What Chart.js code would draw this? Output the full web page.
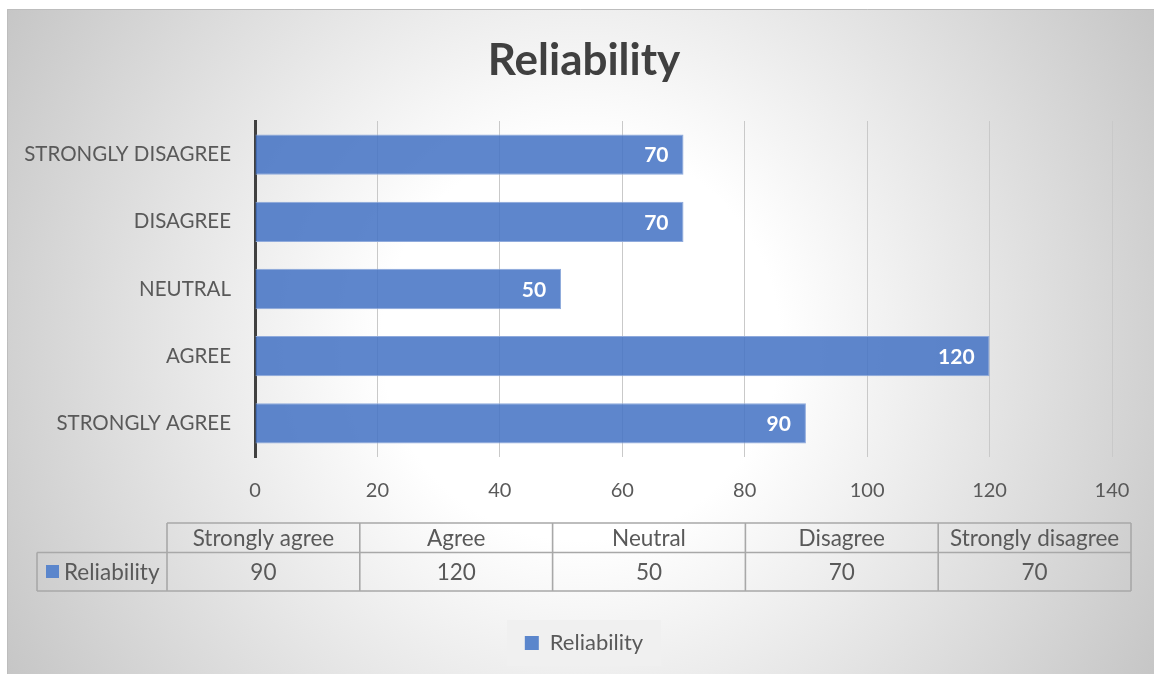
<!DOCTYPE html>
<html>
<head>
<meta charset="utf-8">
<title>Reliability</title>
<script src="https://cdn.jsdelivr.net/npm/chart.js@4.4.1/dist/chart.umd.min.js"></script>
<style>
  html, body { margin: 0; padding: 0; background: #ffffff; }
  #wrap { width: 1154px; height: 674px; }
</style>
</head>
<body>
<div id="wrap"><canvas id="chart" width="1154" height="674"></canvas></div>
<script>
// Survey responses for the "Reliability" item
const categories = ['Strongly agree', 'Agree', 'Neutral', 'Disagree', 'Strongly disagree'];
const seriesName = 'Reliability';
const values = [90, 120, 50, 70, 70];
const axisMin = 0;
const axisMax = 140;
const axisStep = 20;

const FONT = 'Lato, "Open Sans", sans-serif';
const TEXT = '#595959';
const BAR_FILL = 'rgba(68, 114, 196, 0.86)';
const BAR_EDGE = 'rgba(143, 170, 220, 1)';

// Frame with a soft radial gradient, white in the middle fading to grey
const frameBackground = {
  id: 'frameBackground',
  beforeDraw(chart) {
    const ctx = chart.ctx;
    const W = chart.width, H = chart.height;
    ctx.save();
    ctx.fillStyle = '#ffffff';
    ctx.fillRect(0, 0, W, H);
    const fx = 7, fy = 9;
    const cx = (fx + W) / 2, cy = (fy + H) / 2;
    const r = Math.hypot(W - cx, H - cy);
    const g = ctx.createRadialGradient(cx, cy, 0, cx, cy, r);
    g.addColorStop(0, '#ffffff');
    g.addColorStop(0.3, '#ffffff');
    g.addColorStop(1, '#c6c6c6');
    ctx.fillStyle = g;
    ctx.fillRect(fx, fy, W - fx, H - fy);
    ctx.strokeStyle = '#bdbdbd';
    ctx.lineWidth = 1;
    ctx.beginPath();
    ctx.moveTo(fx + 0.5, H);
    ctx.lineTo(fx + 0.5, fy + 0.5);
    ctx.lineTo(W, fy + 0.5);
    ctx.stroke();

    // light panel behind the legend entry
    const lg = chart.legend;
    if (lg && lg.legendHitBoxes && lg.legendHitBoxes.length) {
      const hb = lg.legendHitBoxes[0];
      ctx.fillStyle = 'rgba(240, 240, 240, 0.9)';
      ctx.fillRect(hb.left - 18, hb.top - 12, hb.width + 36, hb.height + 24);
    }
    ctx.restore();
  }
};

// Value labels inside the end of each bar
const barValueLabels = {
  id: 'barValueLabels',
  afterDatasetsDraw(chart) {
    const ctx = chart.ctx;
    const meta = chart.getDatasetMeta(0);
    const data = chart.data.datasets[0].data;
    ctx.save();
    ctx.font = 'bold 21px ' + FONT;
    ctx.fillStyle = '#ffffff';
    ctx.textAlign = 'right';
    ctx.textBaseline = 'middle';
    meta.data.forEach((bar, i) => {
      ctx.fillText(String(data[i]), bar.x - 15, bar.y + 1);
    });
    ctx.restore();
  }
};

// Data table under the axis
const dataTable = {
  id: 'dataTable',
  afterDraw(chart) {
    const ctx = chart.ctx;
    const keyLeft = 37, colLeft = 167, colW = 192.8;
    const top = 523, mid = 552.5, bottom = 591;
    const n = categories.length;
    const right = colLeft + n * colW;
    ctx.save();
    ctx.strokeStyle = '#a8a8a8';
    ctx.lineWidth = 1.6;
    ctx.beginPath();
    ctx.moveTo(colLeft, top); ctx.lineTo(right, top);
    ctx.moveTo(keyLeft, mid); ctx.lineTo(right, mid);
    ctx.moveTo(keyLeft, bottom); ctx.lineTo(right, bottom);
    ctx.moveTo(keyLeft, mid); ctx.lineTo(keyLeft, bottom);
    for (let i = 0; i <= n; i++) {
      const x = colLeft + i * colW;
      ctx.moveTo(x, top); ctx.lineTo(x, bottom);
    }
    ctx.stroke();

    ctx.font = '22.5px ' + FONT;
    ctx.fillStyle = TEXT;
    ctx.textAlign = 'center';
    ctx.textBaseline = 'middle';
    categories.forEach((c, i) => {
      const cx = colLeft + (i + 0.5) * colW;
      ctx.fillText(c, cx, (top + mid) / 2 + 1);
      ctx.fillText(String(values[i]), cx, (mid + bottom) / 2 + 1);
    });
    // series key
    ctx.fillStyle = '#5b86cc';
    ctx.fillRect(46, 565, 13, 13);
    ctx.fillStyle = TEXT;
    ctx.textAlign = 'left';
    ctx.fillText(seriesName, 64, (mid + bottom) / 2 + 1);
    ctx.restore();
  }
};

new Chart(document.getElementById('chart'), {
  type: 'bar',
  data: {
    labels: categories,
    datasets: [{
      label: seriesName,
      data: values,
      backgroundColor: BAR_FILL,
      borderColor: BAR_EDGE,
      borderWidth: 1,
      barPercentage: 0.6,
      categoryPercentage: 1.0
    }]
  },
  options: {
    indexAxis: 'y',
    responsive: false,
    devicePixelRatio: 1,
    animation: false,
    layout: { padding: { left: 14, right: 0, top: 0, bottom: 10 } },
    plugins: {
      title: {
        display: true,
        text: 'Reliability',
        color: '#404040',
        font: { family: FONT, size: 44, weight: 'bold' },
        padding: { top: 34, bottom: 34.2 }
      },
      legend: {
        display: true,
        position: 'bottom',
        labels: {
          color: TEXT,
          font: { family: FONT, size: 22 },
          boxWidth: 14,
          boxHeight: 14,
          padding: 10,
          generateLabels(chart) {
            return [{
              text: seriesName,
              fillStyle: '#5b86cc',
              strokeStyle: '#5b86cc',
              lineWidth: 0,
              fontColor: TEXT,
              datasetIndex: 0,
              hidden: false
            }];
          }
        }
      },
      tooltip: { enabled: false }
    },
    scales: {
      x: {
        min: axisMin,
        max: axisMax,
        ticks: {
          stepSize: axisStep,
          color: TEXT,
          font: { family: FONT, size: 20 },
          padding: 22
        },
        grid: { color: '#c9c9c9', lineWidth: 1, drawTicks: false },
        border: { display: false },
        afterFit(scale) { scale.height = 165; }
      },
      y: {
        reverse: true,
        ticks: {
          color: TEXT,
          font: { family: FONT, size: 20.5 },
          padding: 24,
          callback(value) { return String(this.getLabelForValue(value)).toUpperCase(); }
        },
        grid: { display: false, drawTicks: false },
        border: { display: true, color: '#404040', width: 3 },
        afterFit(scale) { scale.width = 241; }
      },
      // empty right-hand margin beside the plot
      yMargin: {
        type: 'linear',
        position: 'right',
        display: true,
        ticks: { display: false },
        grid: { display: false, drawTicks: false },
        border: { display: false },
        afterFit(scale) { scale.width = 42; }
      }
    }
  },
  plugins: [frameBackground, barValueLabels, dataTable]
});
</script>
</body>
</html>
